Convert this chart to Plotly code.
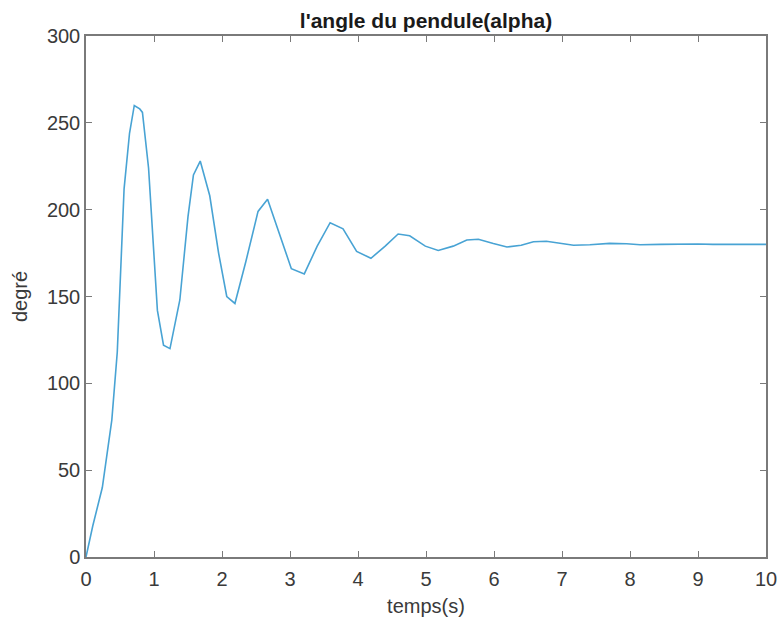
import plotly.graph_objects as go

temps = [0, 0.1, 0.24, 0.38, 0.46, 0.56, 0.64, 0.71, 0.79, 0.83, 0.92, 1.05, 1.14, 1.235,
         1.38, 1.5, 1.58, 1.68, 1.82, 1.95, 2.07, 2.19, 2.35, 2.53, 2.67, 2.85, 3.02,
         3.21, 3.4, 3.59, 3.78, 3.98, 4.19, 4.4, 4.59, 4.76, 4.99, 5.18, 5.4, 5.6, 5.77,
         5.99, 6.19, 6.4, 6.58, 6.77, 6.98, 7.17, 7.41, 7.7, 7.95, 8.15, 8.45, 8.74,
         9.0, 9.22, 9.6, 10.0]
alpha = [0, 18, 40, 79, 118, 212, 244, 260, 258, 256, 224, 142, 122, 120,
         148, 196, 220, 228, 208, 175, 150, 146, 170, 199, 206, 186, 166,
         163, 179, 192.5, 189, 176, 172, 179, 186, 185, 179, 176.5, 179, 182.5, 183,
         180.5, 178.5, 179.5, 181.5, 181.8, 180.8, 179.5, 179.8, 180.6, 180.4, 179.8, 180, 180.3,
         180.2, 180, 180, 180]

x_ticks = list(range(0, 11))
y_ticks = [0, 50, 100, 150, 200, 250, 300]

FONT = "Liberation Sans, Arial, sans-serif"
TXT = "#3a3a3a"

fig = go.Figure()
fig.add_trace(go.Scatter(x=temps, y=alpha, mode="lines",
                         line=dict(color="#48a3d4", width=1.6), showlegend=False))

axis_common = dict(
    showgrid=False, zeroline=False, showline=True, linecolor="#7a7a7a", linewidth=1.5,
    mirror="allticks", ticks="inside", ticklen=6, tickcolor="#7a7a7a", tickwidth=1.2,
    tickfont=dict(family=FONT, size=20, color=TXT), automargin=False,
    ticklabeloverflow="allow",
)

fig.update_layout(
    width=782, height=624,
    margin=dict(l=86, r=16, t=36, b=67),
    paper_bgcolor="white", plot_bgcolor="white",
    title=dict(text="<b>l'angle du pendule(alpha)</b>", x=0.5, xanchor="center",
               xref="paper", y=1, yref="paper", yanchor="bottom", pad=dict(b=8),
               font=dict(family=FONT, size=21, color="#1a1a1a")),
    xaxis=dict(range=[0, 10], tickvals=x_ticks, ticklabelstandoff=3,
               title=dict(text="temps(s)", standoff=10,
                          font=dict(family=FONT, size=20, color=TXT)),
               **axis_common),
    yaxis=dict(range=[0, 300], tickvals=y_ticks,
               title=dict(text="degré", standoff=14,
                          font=dict(family=FONT, size=20, color=TXT)),
               **axis_common),
)

fig.write_html("out.html")
